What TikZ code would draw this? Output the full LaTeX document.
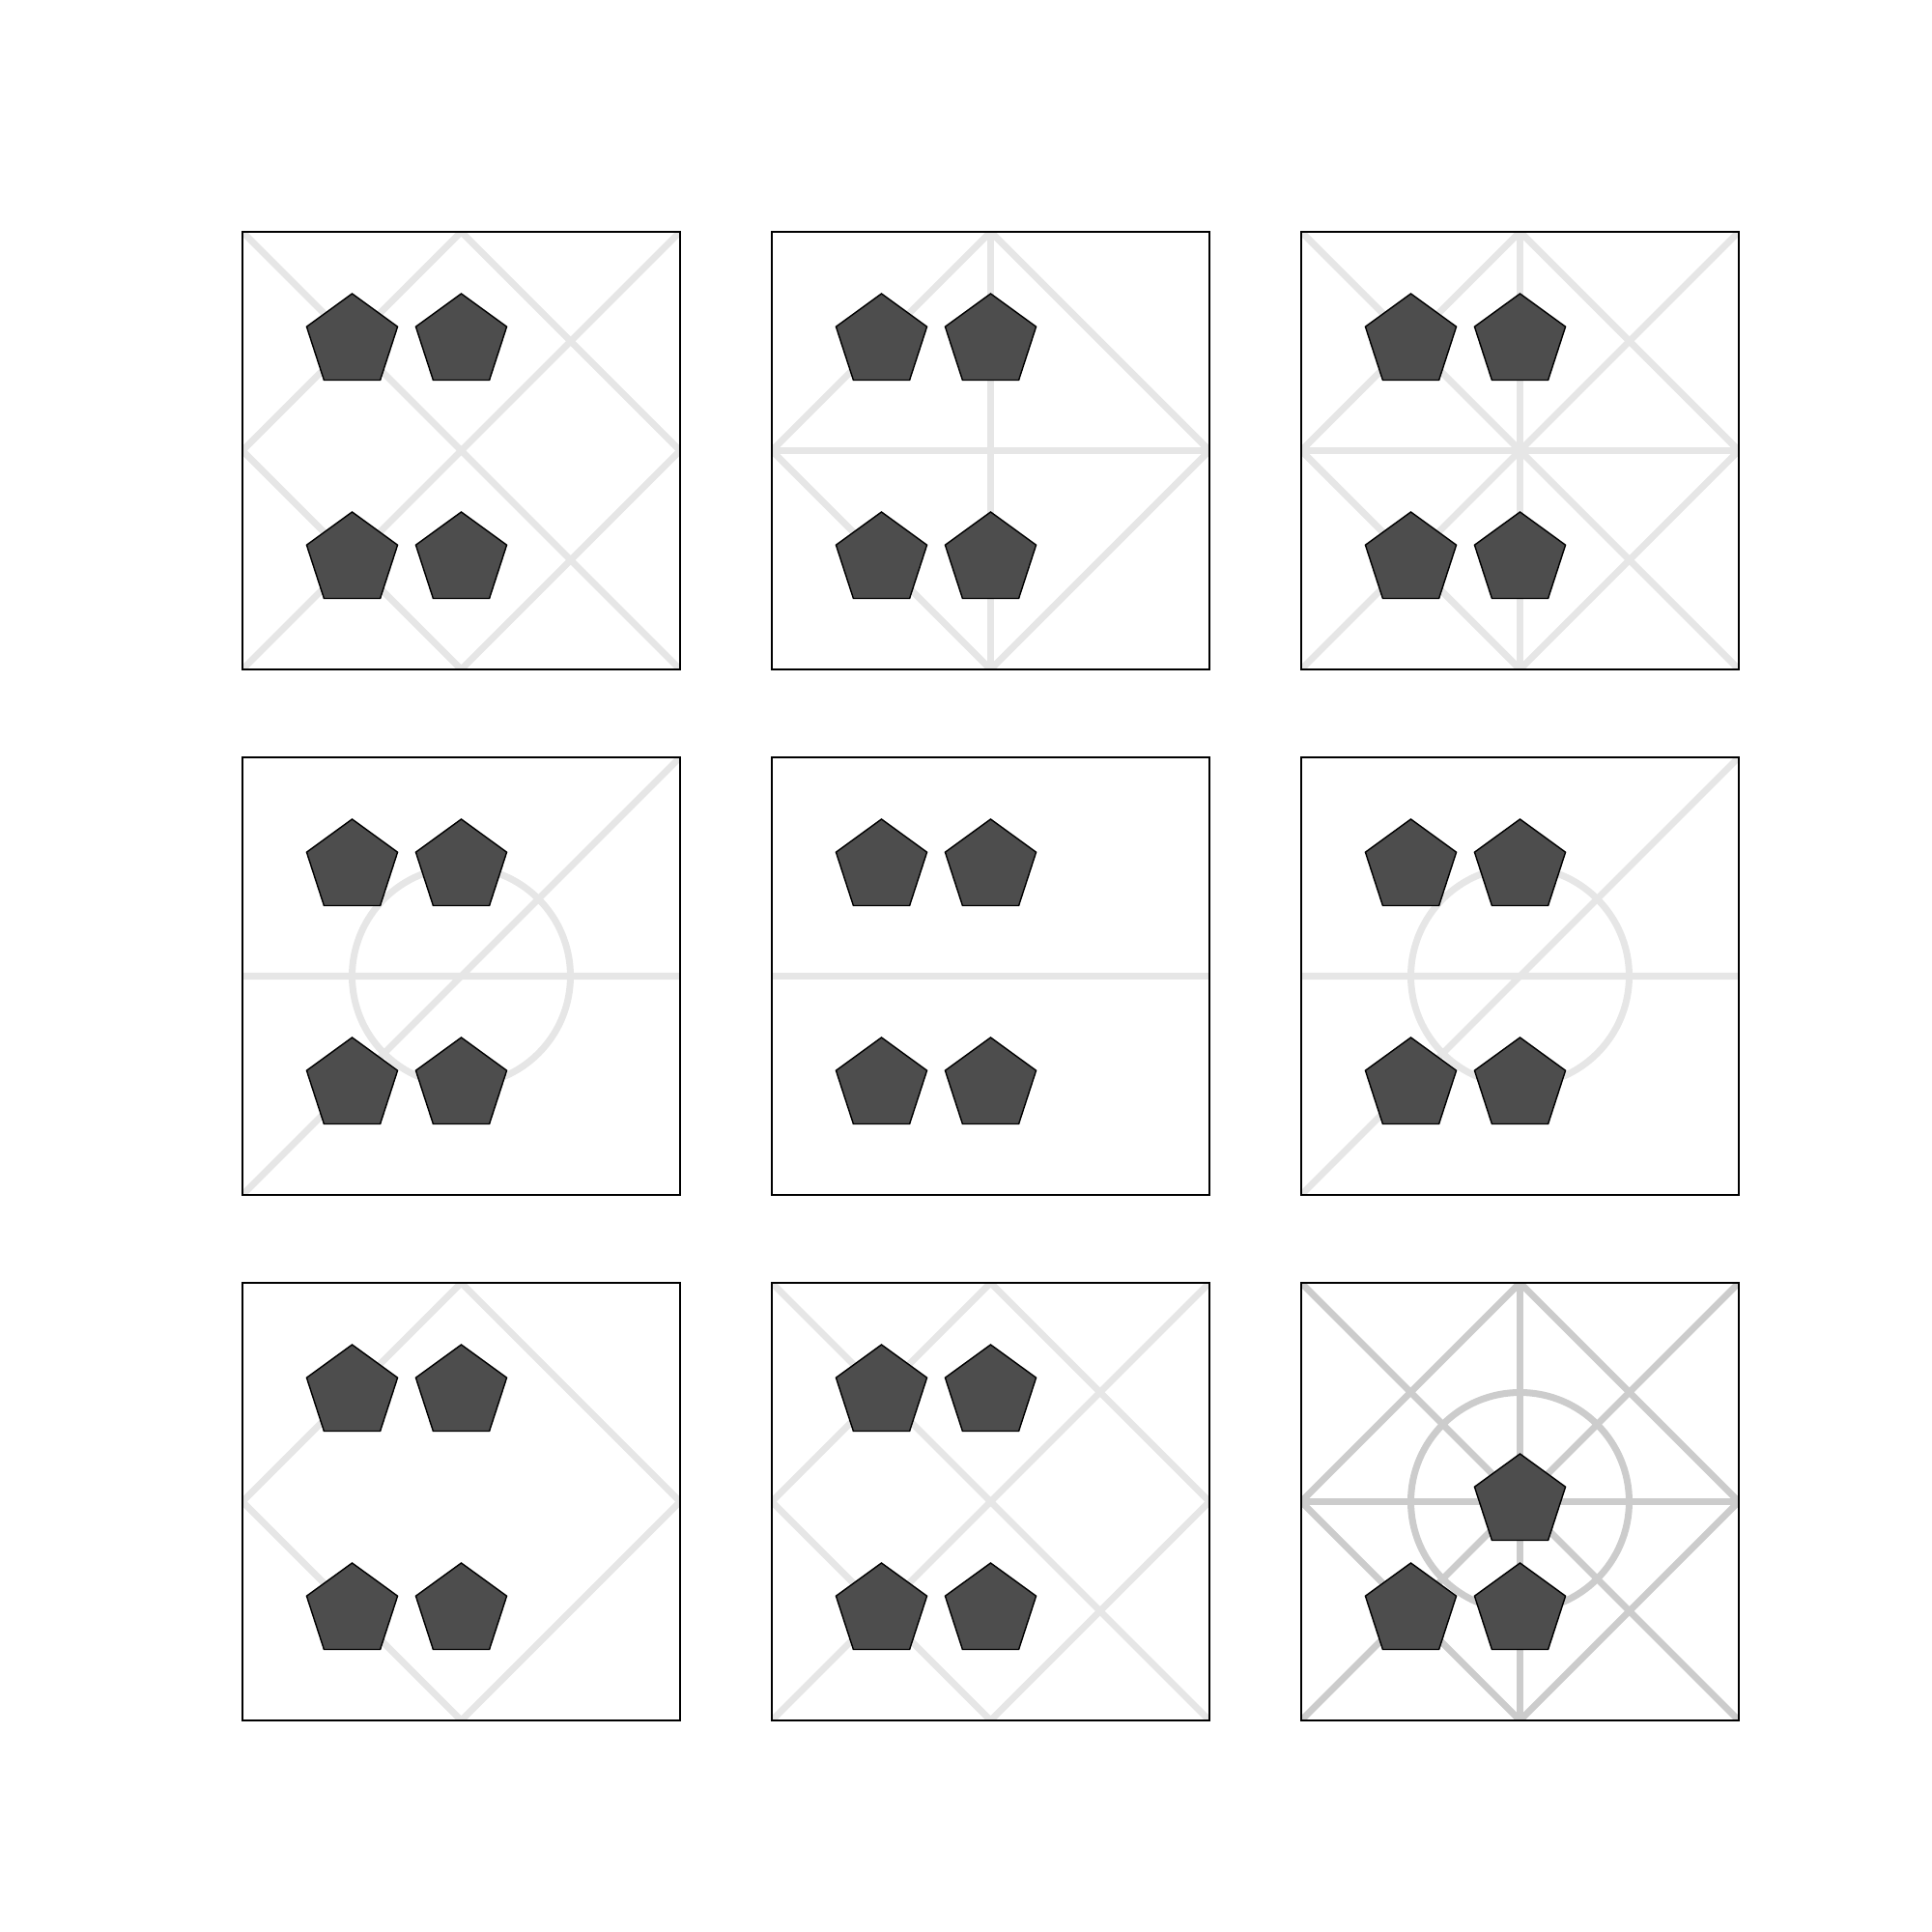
\documentclass[tikz,border=0pt]{standalone}
\usepackage{xcolor}
\usepackage{tikz}
\usetikzlibrary{positioning,calc,backgrounds,shapes.geometric}
\definecolor{guideLight}{HTML}{E6E6E6}
\definecolor{guideDark} {HTML}{CCCCCC}
\definecolor{pentFill}  {HTML}{4D4D4D}

\begin{document}
\begin{tikzpicture}[
  panel/.style  ={draw=black, line width=0.35pt, minimum size=4.53cm,
                  inner sep=0pt, outer sep=0pt},
  guide/.style  ={draw=guideLight, line width=2pt},
  guidedk/.style={guide, draw=guideDark},
  pent/.style   ={regular polygon, regular polygon sides=5, minimum size=9.9mm,
                  inner sep=0pt, outer sep=0pt, fill=pentFill, draw=black,
                  line width=0.4pt},
]
\useasboundingbox (0,0) rectangle (20,20);

% the nine panels
\node[panel] (p1) at (4.775,15.335) {};
\node[panel, right=9.5mm of p1] (p2) {};
\node[panel, right=9.5mm of p2] (p3) {};
\node[panel, below=9.1mm of p1] (p4) {};
\node[panel, right=9.5mm of p4] (p5) {};
\node[panel, right=9.5mm of p5] (p6) {};
\node[panel, below=9.1mm of p4] (p7) {};
\node[panel, right=9.5mm of p7] (p8) {};
\node[panel, right=9.5mm of p8] (p9) {};

% guide lines behind the panels, clipped to each panel
\begin{scope}[on background layer]
  % 1: diagonals + diamond
  \begin{scope}
    \clip (p1.south west) rectangle (p1.north east);
    \draw[guide] (p1.north west) -- (p1.south east) (p1.north east) -- (p1.south west);
    \draw[guide] (p1.north) -- (p1.east) -- (p1.south) -- (p1.west) -- cycle;
  \end{scope}
  % 2: diamond + cross
  \begin{scope}
    \clip (p2.south west) rectangle (p2.north east);
    \draw[guide] (p2.north) -- (p2.east) -- (p2.south) -- (p2.west) -- cycle;
    \draw[guide] (p2.north) -- (p2.south) (p2.west) -- (p2.east);
  \end{scope}
  % 3: everything but the circle
  \begin{scope}
    \clip (p3.south west) rectangle (p3.north east);
    \draw[guide] (p3.north west) -- (p3.south east) (p3.north east) -- (p3.south west);
    \draw[guide] (p3.north) -- (p3.east) -- (p3.south) -- (p3.west) -- cycle;
    \draw[guide] (p3.north) -- (p3.south) (p3.west) -- (p3.east);
  \end{scope}
  % 4: midline, one diagonal, circle
  \begin{scope}
    \clip (p4.south west) rectangle (p4.north east);
    \draw[guide] (p4.west) -- (p4.east) (p4.south west) -- (p4.north east);
    \draw[guide] (p4.center) circle (1.13);
  \end{scope}
  % 5: midline only
  \draw[guide] (p5.west) -- (p5.east);
  % 6: same as 4
  \begin{scope}
    \clip (p6.south west) rectangle (p6.north east);
    \draw[guide] (p6.west) -- (p6.east) (p6.south west) -- (p6.north east);
    \draw[guide] (p6.center) circle (1.13);
  \end{scope}
  % 7: diamond
  \begin{scope}
    \clip (p7.south west) rectangle (p7.north east);
    \draw[guide] (p7.north) -- (p7.east) -- (p7.south) -- (p7.west) -- cycle;
  \end{scope}
  % 8: diagonals + diamond
  \begin{scope}
    \clip (p8.south west) rectangle (p8.north east);
    \draw[guide] (p8.north west) -- (p8.south east) (p8.north east) -- (p8.south west);
    \draw[guide] (p8.north) -- (p8.east) -- (p8.south) -- (p8.west) -- cycle;
  \end{scope}
  % 9: all of it, darker
  \begin{scope}
    \clip (p9.south west) rectangle (p9.north east);
    \draw[guidedk] (p9.north west) -- (p9.south east) (p9.north east) -- (p9.south west);
    \draw[guidedk] (p9.north) -- (p9.east) -- (p9.south) -- (p9.west) -- cycle;
    \draw[guidedk] (p9.north) -- (p9.south) (p9.west) -- (p9.east);
    \draw[guidedk] (p9.center) circle (1.13);
  \end{scope}
\end{scope}

% four pentagons in panels 1--8
\foreach \p in {1,...,8}{
  \node[pent] (p\p-tl) at ($(p\p)+(-1.13,1.13)$) {};
  \node[pent] (p\p-tr) at ($(p\p)+(0,1.13)$) {};
  \node[pent] (p\p-bl) at ($(p\p)+(-1.13,-1.13)$) {};
  \node[pent] (p\p-br) at ($(p\p)+(0,-1.13)$) {};
}

% three in the last one
\node[pent] (p9-c)  at (p9) {};
\node[pent] (p9-bl) at ($(p9)+(-1.13,-1.13)$) {};
\node[pent] (p9-br) at ($(p9)+(0,-1.13)$) {};

\end{tikzpicture}
\end{document}
